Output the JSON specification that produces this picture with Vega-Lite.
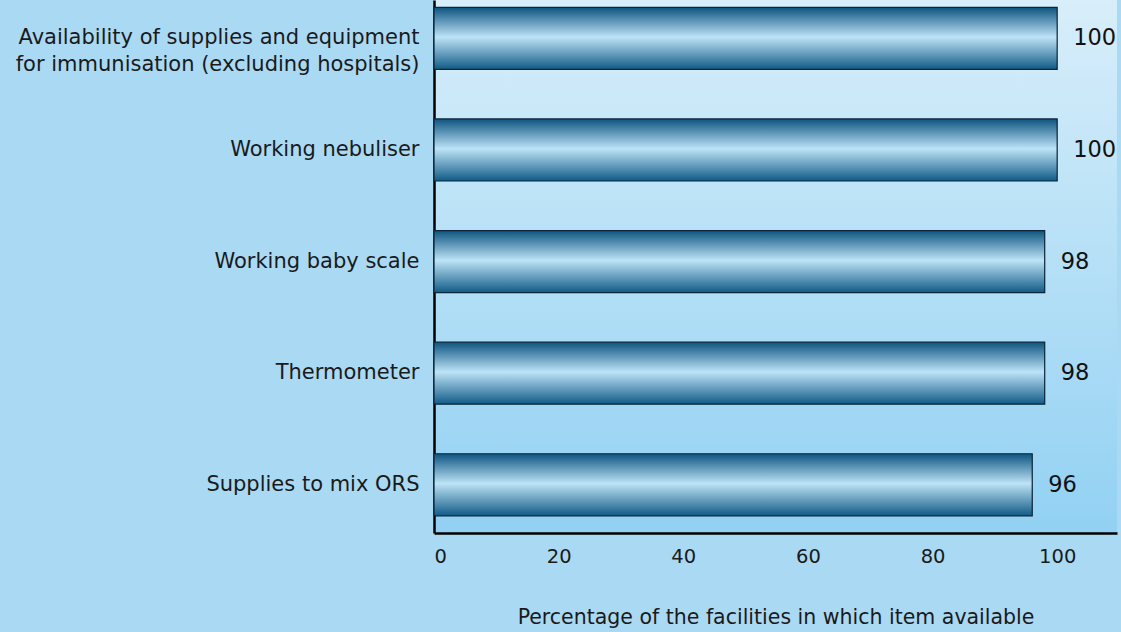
{
  "$schema": "https://vega.github.io/schema/vega-lite/v6.json",
  "width": 1121,
  "height": 632,
  "autosize": {"type": "fit", "contains": "padding"},
  "padding": {"left": 15, "top": 0, "right": 4, "bottom": 4},
  "background": "#aad9f4",
  "config": {
    "font": "DejaVu Sans",
    "view": {
      "stroke": null,
      "fill": {
        "gradient": "linear", "x1": 0, "y1": 0, "x2": 0, "y2": 1,
        "stops": [
          {"offset": 0, "color": "#d8eefa"},
          {"offset": 1, "color": "#92d1f3"}
        ]
      }
    }
  },
  "data": {
    "values": [
      {"item": "Availability of supplies and equipment|for immunisation (excluding hospitals)", "pct": 100},
      {"item": "Working nebuliser", "pct": 100},
      {"item": "Working baby scale", "pct": 98},
      {"item": "Thermometer", "pct": 98},
      {"item": "Supplies to mix ORS", "pct": 96}
    ]
  },
  "encoding": {
    "y": {
      "field": "item",
      "type": "nominal",
      "sort": null,
      "scale": {"paddingInner": 0.444, "paddingOuter": 0.11, "align": 0.3},
      "axis": {
        "title": null,
        "ticks": false,
        "labelExpr": "split(datum.label, '|')",
        "labelFontSize": 21,
        "labelLineHeight": 27,
        "labelColor": "#1a1a1a",
        "labelPadding": 15,
        "labelLimit": 700,
        "domainColor": "#000000",
        "domainWidth": 2.5
      }
    },
    "x": {
      "field": "pct",
      "type": "quantitative",
      "scale": {"domain": [0, 109.6], "nice": false},
      "axis": {
        "values": [0, 20, 40, 60, 80, 100],
        "ticks": false,
        "grid": false,
        "domainColor": "#000000",
        "domainWidth": 2.5,
        "labelFontSize": 19.5,
        "labelColor": "#1a1a1a",
        "labelPadding": 14,
        "title": "Percentage of the facilities in which item available",
        "titleFontSize": 20.5,
        "titleFontWeight": "normal",
        "titleColor": "#1a1a1a",
        "titlePadding": 42
      }
    }
  },
  "layer": [
    {
      "mark": {
        "type": "bar",
        "stroke": "#0b2438",
        "strokeWidth": 1.2,
        "color": {
          "gradient": "linear", "x1": 0, "y1": 0, "x2": 0, "y2": 1,
          "stops": [
            {"offset": 0, "color": "#0e5480"},
            {"offset": 0.48, "color": "#bde3f7"},
            {"offset": 1, "color": "#115b86"}
          ]
        }
      }
    },
    {
      "mark": {"type": "text", "align": "left", "baseline": "middle", "dx": 16, "fontSize": 22.5, "color": "#111111"},
      "encoding": {"text": {"field": "pct", "type": "quantitative"}}
    }
  ]
}
